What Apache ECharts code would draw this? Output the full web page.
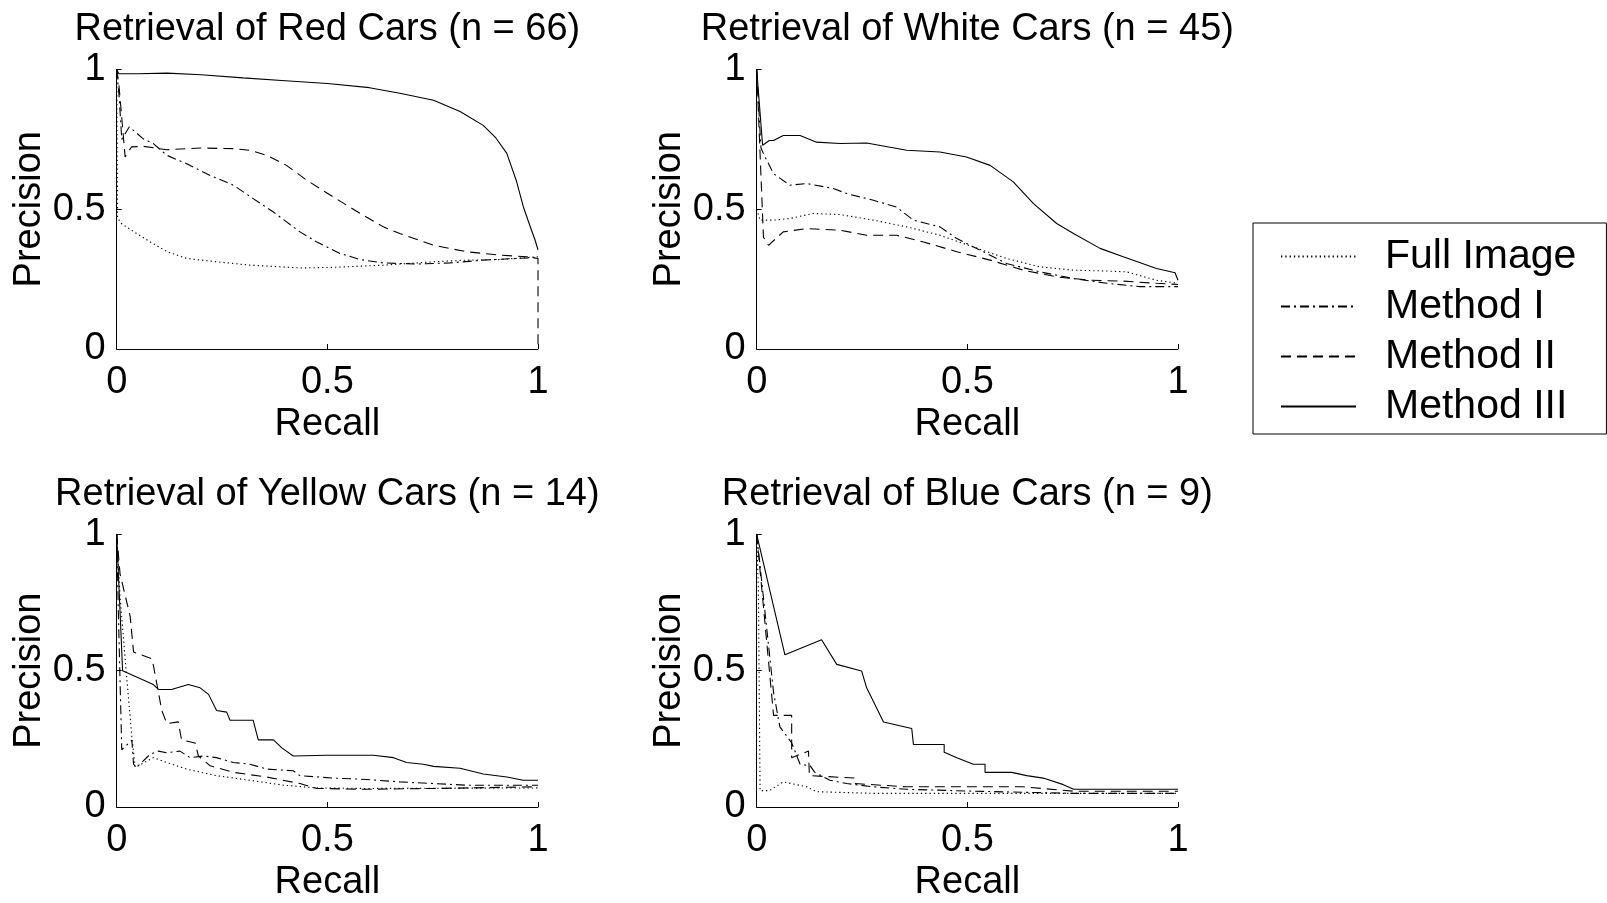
<!DOCTYPE html>
<html>
<head>
<meta charset="utf-8">
<script src="https://cdn.jsdelivr.net/npm/echarts@6/dist/echarts.min.js"></script>
<style>
  html, body { margin: 0; padding: 0; background: #fff; }
  #chart { width: 1607px; height: 903px; }
</style>
</head>
<body>
<div id="chart"></div>
<script>
// Precision-recall curves, [recall, precision] pairs per method and colour class.
const methodNames = ['Full Image', 'Method I', 'Method II', 'Method III'];
const panelTitles = [
  'Retrieval of Red Cars (n = 66)',
  'Retrieval of White Cars (n = 45)',
  'Retrieval of Yellow Cars (n = 14)',
  'Retrieval of Blue Cars (n = 9)'
];
const axisTicks = [0, 0.5, 1];

const redFull = [[0,1],[0.002,0.47],[0.01,0.45],[0.04,0.42],[0.08,0.383],[0.12,0.348],[0.166,0.324],[0.237,0.312],[0.316,0.300],[0.435,0.290],[0.514,0.292],[0.633,0.300],[0.752,0.312],[0.831,0.318],[0.91,0.32],[1,0.33]];
const redM1 = [[0,1],[0.006,0.9],[0.012,0.75],[0.03,0.795],[0.063,0.752],[0.087,0.735],[0.119,0.693],[0.166,0.663],[0.222,0.621],[0.277,0.586],[0.324,0.538],[0.372,0.49],[0.435,0.419],[0.475,0.383],[0.53,0.342],[0.578,0.32],[0.633,0.308],[0.712,0.304],[0.791,0.308],[0.87,0.318],[0.949,0.324],[1,0.327]];
const redM2 = [[0,1],[0.005,0.95],[0.02,0.687],[0.035,0.723],[0.063,0.725],[0.119,0.713],[0.198,0.719],[0.277,0.717],[0.316,0.711],[0.356,0.693],[0.403,0.657],[0.451,0.604],[0.514,0.544],[0.578,0.485],[0.633,0.437],[0.672,0.413],[0.752,0.371],[0.831,0.348],[0.91,0.336],[0.973,0.33],[1,0.324],[1,0]];
const redM3 = [[0,1],[0.005,0.985],[0.05,0.985],[0.12,0.987],[0.2,0.981],[0.3,0.97],[0.4,0.96],[0.5,0.95],[0.6,0.935],[0.672,0.915],[0.752,0.89],[0.815,0.85],[0.87,0.80],[0.9,0.755],[0.926,0.70],[0.949,0.60],[0.965,0.51],[0.981,0.44],[0.993,0.39],[1,0.355]];

const whiteFull = [[0,0.5],[0.008,0.461],[0.04,0.461],[0.079,0.467],[0.134,0.485],[0.198,0.481],[0.277,0.461],[0.356,0.437],[0.435,0.407],[0.514,0.365],[0.593,0.324],[0.672,0.294],[0.752,0.282],[0.831,0.279],[0.878,0.276],[0.949,0.246],[1,0.235]];
const whiteM1 = [[0,1],[0.01,0.72],[0.016,0.699],[0.04,0.627],[0.079,0.586],[0.119,0.592],[0.182,0.574],[0.214,0.556],[0.277,0.532],[0.332,0.508],[0.372,0.461],[0.435,0.437],[0.475,0.395],[0.53,0.354],[0.593,0.306],[0.672,0.276],[0.752,0.252],[0.831,0.235],[0.91,0.223],[1,0.223]];
const whiteM2 = [[0,1],[0.016,0.4],[0.028,0.371],[0.063,0.419],[0.119,0.431],[0.198,0.425],[0.261,0.407],[0.332,0.407],[0.396,0.383],[0.475,0.348],[0.554,0.318],[0.633,0.282],[0.712,0.258],[0.791,0.246],[0.87,0.243],[0.949,0.235],[1,0.231]];
const whiteM3 = [[0,1],[0.014,0.729],[0.03,0.746],[0.04,0.746],[0.063,0.764],[0.103,0.764],[0.142,0.74],[0.198,0.735],[0.261,0.737],[0.356,0.711],[0.435,0.705],[0.498,0.687],[0.554,0.657],[0.609,0.598],[0.657,0.52],[0.712,0.449],[0.752,0.413],[0.815,0.36],[0.87,0.33],[0.949,0.288],[0.993,0.273],[1,0.246]];

const yellowFull = [[0,1],[0.008,0.77],[0.024,0.47],[0.036,0.258],[0.044,0.145],[0.087,0.181],[0.119,0.163],[0.166,0.139],[0.237,0.115],[0.316,0.098],[0.396,0.08],[0.475,0.07],[0.593,0.068],[1,0.07]];
const yellowM1 = [[0,1],[0.004,0.71],[0.012,0.21],[0.036,0.245],[0.04,0.157],[0.047,0.145],[0.079,0.193],[0.099,0.205],[0.119,0.199],[0.15,0.205],[0.174,0.181],[0.206,0.187],[0.237,0.181],[0.277,0.163],[0.316,0.157],[0.356,0.139],[0.419,0.133],[0.435,0.115],[0.514,0.106],[0.593,0.101],[0.672,0.092],[0.752,0.086],[0.831,0.08],[1,0.08]];
const yellowM2 = [[0,1],[0.008,0.854],[0.032,0.699],[0.04,0.568],[0.083,0.544],[0.087,0.52],[0.107,0.354],[0.119,0.306],[0.146,0.312],[0.154,0.246],[0.186,0.235],[0.194,0.187],[0.222,0.151],[0.277,0.127],[0.356,0.11],[0.435,0.086],[0.475,0.068],[0.593,0.065],[0.752,0.068],[1,0.074]];
const yellowM3 = [[0,1],[0.014,0.5],[0.087,0.449],[0.099,0.431],[0.13,0.431],[0.17,0.449],[0.198,0.437],[0.218,0.413],[0.237,0.354],[0.261,0.348],[0.269,0.318],[0.324,0.318],[0.336,0.246],[0.372,0.246],[0.392,0.217],[0.419,0.187],[0.498,0.19],[0.609,0.19],[0.657,0.181],[0.688,0.163],[0.728,0.157],[0.752,0.149],[0.815,0.142],[0.87,0.121],[0.926,0.11],[0.965,0.098],[1,0.098]];

const blueFull = [[0,1],[0.004,0.8],[0.008,0.06],[0.03,0.06],[0.063,0.092],[0.119,0.074],[0.142,0.056],[0.277,0.05],[1,0.05]];
const blueM1 = [[0,1],[0.04,0.42],[0.055,0.294],[0.083,0.235],[0.103,0.157],[0.127,0.151],[0.138,0.127],[0.174,0.098],[0.214,0.086],[0.277,0.074],[0.356,0.065],[0.514,0.058],[0.752,0.05],[1,0.05]];
const blueM2 = [[0,1],[0.04,0.336],[0.083,0.336],[0.083,0.181],[0.123,0.205],[0.125,0.115],[0.233,0.106],[0.233,0.086],[0.356,0.074],[0.633,0.074],[0.752,0.058],[1,0.058]];
const blueM3 = [[0,1],[0.067,0.558],[0.154,0.613],[0.19,0.523],[0.249,0.499],[0.261,0.437],[0.301,0.312],[0.368,0.288],[0.372,0.229],[0.445,0.229],[0.445,0.201],[0.475,0.181],[0.514,0.157],[0.542,0.157],[0.542,0.127],[0.605,0.127],[0.641,0.115],[0.68,0.106],[0.728,0.082],[0.752,0.065],[1,0.065]];

const panels = [
  [redFull, redM1, redM2, redM3],
  [whiteFull, whiteM1, whiteM2, whiteM3],
  [yellowFull, yellowM1, yellowM2, yellowM3],
  [blueFull, blueM1, blueM2, blueM3]
];

// Layout of the 2x2 panel grid (pixels)
const FONT = '"Liberation Sans", Arial, Helvetica, sans-serif';
const colLeft = [116.7, 756.7];
const rowTop = [69.5, 534.3];
const plotW = 421.3, plotH = 279.5;
const titleY = [30, 495];

// dotted, dash-dot, dashed, solid
const dashPatterns = [[1.3, 3], [9, 4, 2, 4], [10, 6], 'solid'];

const grids = [], xAxes = [], yAxes = [], titles = [], series = [];
panels.forEach((curves, p) => {
  const c = p % 2, r = Math.floor(p / 2);
  grids.push({ left: colLeft[c], top: rowTop[r], width: plotW, height: plotH, containLabel: false });
  titles.push({
    text: panelTitles[p],
    left: colLeft[c] + plotW / 2,
    top: titleY[r],
    textAlign: 'center',
    textVerticalAlign: 'middle',
    padding: 0,
    textStyle: { fontSize: 38, fontWeight: 'normal', fontFamily: FONT, color: '#000' }
  });
  const axisCommon = {
    gridIndex: p,
    type: 'value',
    min: axisTicks[0],
    max: axisTicks[axisTicks.length - 1],
    interval: axisTicks[1] - axisTicks[0],
    axisLine: { show: true, onZero: false, lineStyle: { color: '#000', width: 1 } },
    axisTick: { show: true, inside: true, length: 5, lineStyle: { color: '#000', width: 1 } },
    splitLine: { show: false },
    nameLocation: 'middle',
    nameTextStyle: { fontSize: 38, color: '#000', fontFamily: FONT }
  };
  xAxes.push(Object.assign({}, axisCommon, {
    name: 'Recall', nameGap: 57,
    axisLabel: { fontSize: 38, color: '#000', fontFamily: FONT, margin: 15 }
  }));
  yAxes.push(Object.assign({}, axisCommon, {
    name: 'Precision', nameGap: 61,
    axisLabel: { fontSize: 38, color: '#000', fontFamily: FONT, margin: 11, padding: [10, 0, 0, 0] }
  }));
  curves.forEach((data, m) => {
    series.push({
      type: 'line',
      name: methodNames[m],
      xAxisIndex: p,
      yAxisIndex: p,
      data: data,
      symbol: 'none',
      clip: false,
      color: '#000',
      lineStyle: { color: '#000', width: 1.1, type: dashPatterns[m] },
      z: 2 + m
    });
  });
});

const chart = echarts.init(document.getElementById('chart'), null, { renderer: 'canvas' });
chart.setOption({
  backgroundColor: '#fff',
  animation: false,
  title: titles,
  grid: grids,
  xAxis: xAxes,
  yAxis: yAxes,
  legend: {
    data: methodNames,
    orient: 'vertical',
    left: 1253,
    top: 223,
    itemWidth: 75,
    itemHeight: 14,
    itemGap: 9,
    padding: [13, 30, 7, 27],
    borderColor: '#000',
    borderWidth: 1,
    selectedMode: false,
    itemStyle: { opacity: 0 },
    textStyle: { fontSize: 41, lineHeight: 41, color: '#000', fontFamily: FONT, padding: [0, 0, 0, 24] }
  },
  series: series
});
</script>
</body>
</html>
